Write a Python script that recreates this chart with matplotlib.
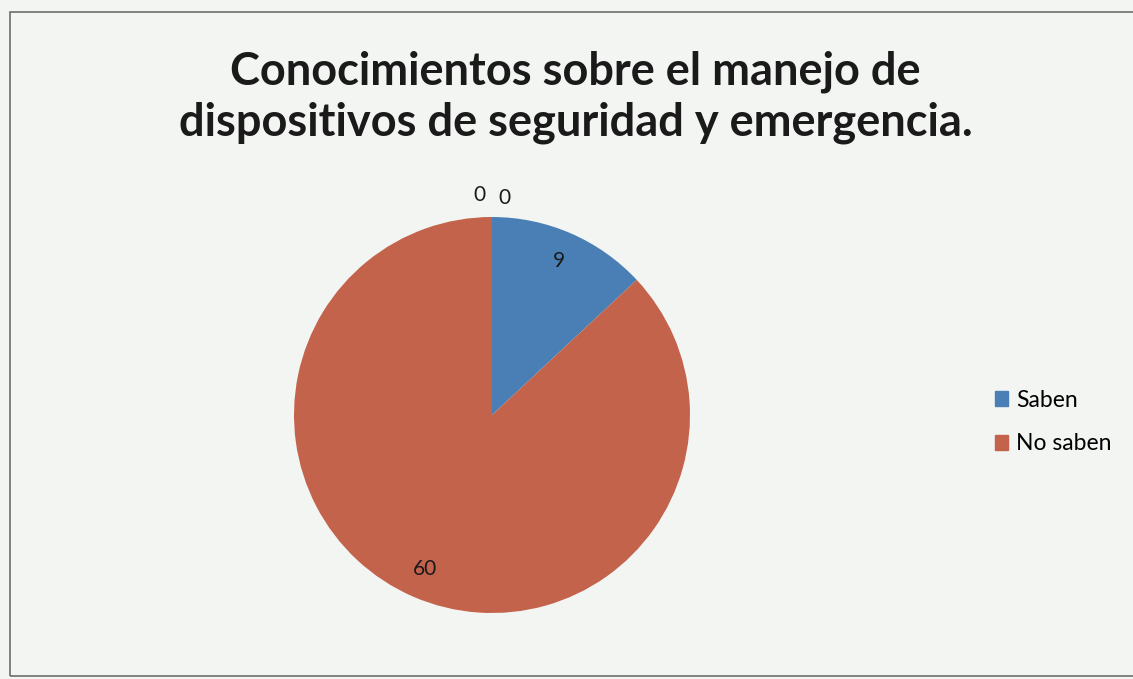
import numpy as np
import matplotlib.pyplot as plt
from matplotlib.patches import Rectangle

# Data
categories = ["Saben", "No saben", "", ""]
values = [9, 60, 0, 0]
colors = ["#4a7fb6", "#c4634b", "#9bbb59", "#8064a2"]
title = "Conocimientos sobre el manejo de\ndispositivos de seguridad y emergencia."

plt.rcParams['font.family'] = ['Lato', 'DejaVu Sans']

fig = plt.figure(figsize=(11.33, 6.79), dpi=100)
fig.patch.set_facecolor("#f3f5f3")

# chart frame
fig.add_artist(Rectangle((10 / 1133, 3 / 679), 1.2, 664 / 679, transform=fig.transFigure,
                         fill=False, edgecolor="#6d6d6d", linewidth=1.2))

fig.text(0.508, 1 - 97 / 679, title, ha="center", va="center", fontsize=32.5,
         fontweight="bold", color="#1a1a1a", linespacing=1.25)

# pie axes: center (492, 415) px, radius 198 px
half = 250
ax = fig.add_axes([(492 - half) / 1133, (679 - 415 - half) / 679, 2 * half / 1133, 2 * half / 679])
wedges, _ = ax.pie(values, colors=colors, startangle=90, counterclock=False, radius=1,
                   wedgeprops=dict(linewidth=0))
ax.set_xlim(-half / 198, half / 198)
ax.set_ylim(-half / 198, half / 198)
ax.set_aspect("equal")

# value labels
zero_side = [-1, 1]
zi = 0
for w, v in zip(wedges, values):
    mid = np.deg2rad((w.theta1 + w.theta2) / 2)
    if v > 0:
        r = 0.85
        x, y = r * np.cos(mid), r * np.sin(mid)
    else:
        x = 1.11 * np.cos(mid) + zero_side[zi] * 0.065
        y = 1.11 * np.sin(mid) - 0.015 * zi
        zi += 1
    ax.text(x, y, str(v), ha="center", va="center", fontsize=15, color="#1a1a1a")

handles = [Rectangle((0, 0), 1, 1, color=c) for c in colors[:2]]
fig.legend(handles, categories[:2], loc="center left", bbox_to_anchor=(974 / 1133, 1 - 422 / 679),
           frameon=False, fontsize=16.5, handlelength=0.6, handleheight=0.6,
           handletextpad=0.35, labelspacing=1.0)

fig.savefig("out.png", dpi=100, facecolor=fig.get_facecolor())
